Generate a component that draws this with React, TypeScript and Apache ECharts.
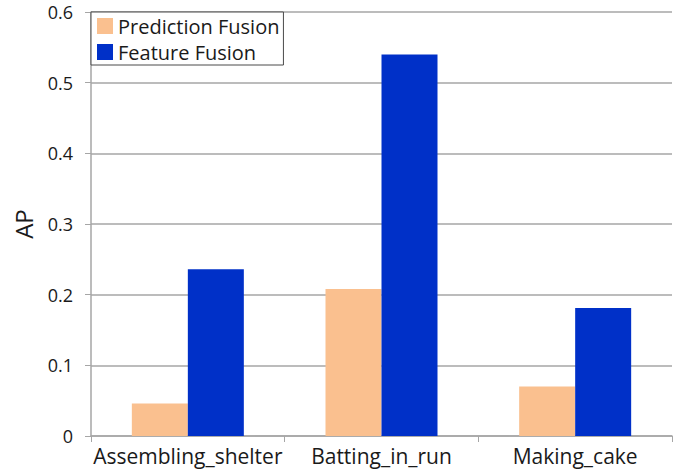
import React, { useEffect, useRef } from "react";
import * as echarts from "echarts";

const categories = ["Assembling_shelter", "Batting_in_run", "Making_cake"];
const predictionFusion = [0.046, 0.208, 0.07];
const featureFusion = [0.236, 0.54, 0.181];
const yTicks = [0, 0.1, 0.2, 0.3, 0.4, 0.5, 0.6];

const FONT = "'Open Sans', 'Noto Sans', sans-serif";

export default function App() {
  const ref = useRef<HTMLDivElement>(null);

  useEffect(() => {
    if (!ref.current) return;
    const chart = echarts.init(ref.current, null, { renderer: "svg" });
    chart.setOption({
      animation: false,
      backgroundColor: "#ffffff",
      textStyle: { fontFamily: FONT },
      grid: { left: 91, right: 16, top: 12, bottom: 38 },
      legend: {
        orient: "vertical",
        left: 91,
        top: 12,
        backgroundColor: "#ffffff",
        borderColor: "#4a4a4a",
        borderWidth: 1,
        borderRadius: 0,
        padding: [4, 4, 3, 6],
        itemWidth: 16,
        itemHeight: 16,
        itemGap: 6,
        icon: "rect",
        textStyle: { fontSize: 20, color: "#1a1a1a", fontFamily: FONT },
        data: ["Prediction Fusion", "Feature Fusion"],
      },
      xAxis: {
        type: "category",
        data: categories,
        axisLine: { show: true, lineStyle: { color: "#a6a6a6", width: 1.5 } },
        axisTick: { show: true, length: 6, lineStyle: { color: "#a6a6a6" } },
        axisLabel: {
          fontSize: 21,
          color: "#1a1a1a",
          margin: 9,
          interval: 0,
          hideOverlap: false,
          fontFamily: FONT,
        },
      },
      yAxis: {
        type: "value",
        min: 0,
        max: 0.6,
        interval: 0.1,
        name: "AP",
        nameLocation: "middle",
        nameGap: 56,
        nameTextStyle: { fontSize: 24, color: "#1a1a1a", fontFamily: FONT },
        axisLine: { show: true, lineStyle: { color: "#a6a6a6", width: 1.5 } },
        axisTick: { show: true, length: 6, lineStyle: { color: "#a6a6a6" } },
        splitLine: { show: true, lineStyle: { color: "#a6a6a6", width: 1.5 } },
        axisLabel: {
          fontSize: 18,
          color: "#1a1a1a",
          margin: 18,
          fontFamily: FONT,
          formatter: (v: number) => {
            const t = yTicks.find((x) => Math.abs(x - v) < 1e-9);
            return t === undefined ? "" : t === 0 ? "0" : String(t);
          },
        },
      },
      series: [
        {
          name: "Prediction Fusion",
          type: "bar",
          data: predictionFusion,
          barWidth: 56,
          barGap: "0%",
          itemStyle: { color: "#FAC08F" },
        },
        {
          name: "Feature Fusion",
          type: "bar",
          data: featureFusion,
          barWidth: 56,
          barGap: "0%",
          itemStyle: { color: "#0030C8" },
        },
      ],
    });
    return () => chart.dispose();
  }, []);

  return <div ref={ref} style={{ width: 688, height: 474, position: "absolute", left: 0, top: 0 }} />;
}
